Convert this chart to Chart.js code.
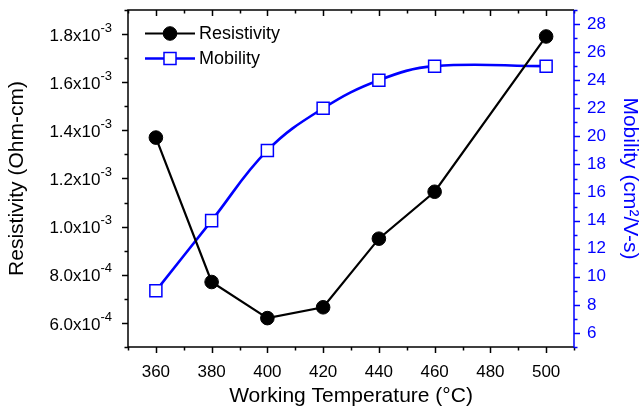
<!DOCTYPE html>
<html>
<head>
<meta charset="utf-8">
<script src="https://cdn.jsdelivr.net/npm/chart.js@4.4.1/dist/chart.umd.min.js"></script>
<style>
  body { margin: 0; background: #fff; }
  canvas { display: block; }
</style>
</head>
<body>
<canvas id="chart" width="640" height="412"></canvas>
<script>
// data
const temps = [360, 380, 400, 420, 440, 460, 500];
const resistivity = [1.37e-3, 7.7e-4, 6.2e-4, 6.65e-4, 9.5e-4, 1.145e-3, 1.79e-3];
const mobility = [9, 14, 19, 22, 24, 25, 25];

const xLabels = [360, 380, 400, 420, 440, 460, 480, 500];
const leftLabels = [6e-4, 8e-4, 1.0e-3, 1.2e-3, 1.4e-3, 1.6e-3, 1.8e-3];
const rightLabels = [6, 8, 10, 12, 14, 16, 18, 20, 22, 24, 26, 28];

const FONT = "'Liberation Sans', Arial, sans-serif";
const BLUE = '#0000ff';

function isLabel(list, v) {
    return list.some(l => Math.abs(l - v) < 1e-9);
}

// fixed box sizes so the plot area lands where the original one is
function fixBox(s, w, h) {
    if (w !== null) s.width = w;
    if (h !== null) s.height = h;
    s.paddingTop = 0; s.paddingBottom = 0;
    s.paddingLeft = 0; s.paddingRight = 0;
}

// frame, tick marks, left labels with superscript, legend
const framePlugin = {
    id: 'frame',
    afterDraw(chart) {
        const ctx = chart.ctx;
        const a = chart.chartArea;
        const sx = chart.scales.x, sy = chart.scales.y, sy2 = chart.scales.y2;
        ctx.save();
        ctx.lineWidth = 1.5;
        ctx.lineCap = 'butt';

        // x ticks (bottom outward, top inward)
        ctx.strokeStyle = '#000';
        ctx.beginPath();
        for (let v = sx.min; v <= sx.max + 1e-9; v += 10) {
            const px = Math.round(sx.getPixelForValue(v)) + 0.5;
            const len = isLabel(xLabels, v) ? 6 : 3.5;
            ctx.moveTo(px, a.bottom); ctx.lineTo(px, a.bottom + len);
            ctx.moveTo(px, a.top); ctx.lineTo(px, a.top + len);
        }
        // left ticks
        for (let k = 5; k <= 19; k++) {
            const v = k * 1e-4;
            const py = Math.round(sy.getPixelForValue(v)) + 0.5;
            const len = isLabel(leftLabels, v) ? 6 : 3.5;
            ctx.moveTo(a.left, py); ctx.lineTo(a.left - len, py);
        }
        ctx.stroke();

        // frame
        ctx.beginPath();
        ctx.moveTo(a.right, a.top); ctx.lineTo(a.left, a.top);
        ctx.lineTo(a.left, a.bottom); ctx.lineTo(a.right, a.bottom);
        ctx.stroke();

        // right axis in blue
        ctx.strokeStyle = BLUE;
        ctx.beginPath();
        ctx.moveTo(a.right, a.top); ctx.lineTo(a.right, a.bottom + 0.75);
        for (let v = sy2.min; v <= sy2.max; v++) {
            const py = Math.round(sy2.getPixelForValue(v)) + 0.5;
            const len = isLabel(rightLabels, v) ? 6 : 3.5;
            ctx.moveTo(a.right, py); ctx.lineTo(a.right + len, py);
        }
        ctx.stroke();

        // left tick labels: mantissa x10 with raised exponent
        ctx.fillStyle = '#000';
        ctx.textBaseline = 'middle';
        leftLabels.forEach(v => {
            const py = sy.getPixelForValue(v);
            const exp = v >= 1e-3 - 1e-12 ? -3 : -4;
            const mant = (v / Math.pow(10, exp)).toFixed(1) + 'x10';
            const sup = String(exp);
            ctx.font = '13px ' + FONT;
            const supW = ctx.measureText(sup).width;
            const right = a.left - 16;
            ctx.textAlign = 'right';
            ctx.fillText(sup, right, py - 6);
            ctx.font = '17px ' + FONT;
            ctx.fillText(mant, right - supW, py + 2);
        });

        // legend
        const items = [
            { text: 'Resistivity', y: 33.5, ds: chart.data.datasets[0] },
            { text: 'Mobility', y: 58.5, ds: chart.data.datasets[1] }
        ];
        items.forEach(it => {
            ctx.strokeStyle = it.ds.borderColor;
            ctx.lineWidth = it.ds.borderWidth;
            ctx.beginPath();
            ctx.moveTo(145, it.y); ctx.lineTo(195, it.y);
            ctx.stroke();
            ctx.fillStyle = it.ds.pointBackgroundColor;
            ctx.strokeStyle = it.ds.pointBorderColor;
            ctx.lineWidth = it.ds.pointBorderWidth || 1;
            ctx.beginPath();
            if (it.ds.pointStyle === 'circle') {
                ctx.arc(170, it.y, it.ds.pointRadius, 0, Math.PI * 2);
            } else {
                const h = it.ds.pointRadius * Math.SQRT1_2;
                ctx.rect(170 - h, it.y - h, 2 * h, 2 * h);
            }
            ctx.fill();
            ctx.stroke();
            ctx.fillStyle = '#000';
            ctx.font = '18px ' + FONT;
            ctx.textAlign = 'left';
            ctx.textBaseline = 'middle';
            ctx.fillText(it.text, 199, it.y + 1);
        });
        ctx.restore();
    }
};

new Chart(document.getElementById('chart'), {
    type: 'line',
    data: {
        datasets: [
            {
                label: 'Resistivity',
                data: temps.map((t, i) => ({ x: t, y: resistivity[i] })),
                yAxisID: 'y',
                borderColor: '#000',
                borderWidth: 2.2,
                pointStyle: 'circle',
                pointRadius: 6.8,
                pointBackgroundColor: '#000',
                pointBorderColor: '#000',
                pointBorderWidth: 1,
                tension: 0
            },
            {
                label: 'Mobility',
                data: temps.map((t, i) => ({ x: t, y: mobility[i] })),
                yAxisID: 'y2',
                borderColor: BLUE,
                borderWidth: 2.6,
                pointStyle: 'rect',
                pointRadius: 8.5,
                pointBackgroundColor: '#fff',
                pointBorderColor: BLUE,
                pointBorderWidth: 1.5,
                tension: 0.4
            }
        ]
    },
    options: {
        responsive: false,
        animation: false,
        devicePixelRatio: 1,
        layout: { padding: { top: 10, left: 0, right: 0, bottom: 0 } },
        plugins: { legend: { display: false }, tooltip: { enabled: false } },
        scales: {
            x: {
                type: 'linear',
                min: 350, max: 510,
                grid: { display: false, drawTicks: false },
                border: { display: false },
                ticks: {
                    stepSize: 10,
                    autoSkip: false,
                    maxRotation: 0,
                    padding: 15,
                    color: '#000',
                    font: { family: FONT, size: 17 },
                    callback: v => isLabel(xLabels, v) ? String(v) : ''
                },
                title: {
                    display: true,
                    text: 'Working Temperature (°C)',
                    color: '#000',
                    font: { family: FONT, size: 21, lineHeight: 1 },
                    padding: { top: 0, bottom: 5 }
                },
                afterFit: s => fixBox(s, null, 65)
            },
            y: {
                type: 'linear',
                position: 'left',
                min: 5e-4, max: 1.9e-3,
                grid: { display: false, drawTicks: false },
                border: { display: false },
                ticks: { display: false, stepSize: 1e-4 },
                title: {
                    display: true,
                    text: 'Resistivity (Ohm-cm)',
                    color: '#000',
                    font: { family: FONT, size: 21, lineHeight: 1 },
                    padding: { top: 7, bottom: 0 }
                },
                afterFit: s => fixBox(s, 128, null)
            },
            y2: {
                type: 'linear',
                position: 'right',
                min: 5, max: 29,
                grid: { display: false, drawTicks: false },
                border: { display: false },
                ticks: {
                    stepSize: 1,
                    autoSkip: false,
                    padding: 13,
                    color: BLUE,
                    font: { family: FONT, size: 17 },
                    callback: v => isLabel(rightLabels, v) ? String(v) : ''
                },
                title: {
                    display: true,
                    text: 'Mobility (cm²/V-s)',
                    color: BLUE,
                    font: { family: FONT, size: 21, lineHeight: 1 },
                    padding: { top: 0, bottom: 0 }
                },
                afterFit: s => fixBox(s, 66, null)
            }
        }
    },
    plugins: [framePlugin]
});
</script>
</body>
</html>
